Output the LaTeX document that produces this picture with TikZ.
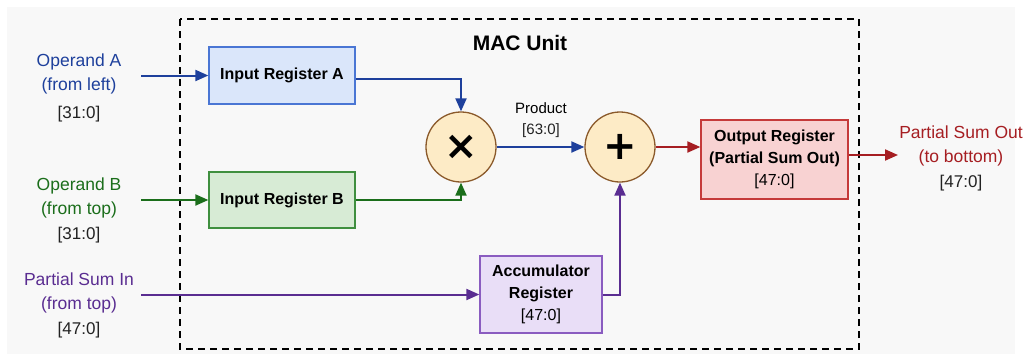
\documentclass[tikz,border=0pt]{standalone}
\usepackage{fontspec}
\setmainfont{Liberation Sans}
\newfontfamily\symfont{DejaVu Sans}
\usetikzlibrary{arrows.meta,positioning,calc}

\definecolor{bgc}{HTML}{F8F8F8}
\definecolor{blueL}{HTML}{1E409C}
\definecolor{blueF}{HTML}{DAE6FA}
\definecolor{blueD}{HTML}{4A76D4}
\definecolor{greenL}{HTML}{1B6E1B}
\definecolor{greenF}{HTML}{D7EBD5}
\definecolor{greenD}{HTML}{3F8F3F}
\definecolor{purpleL}{HTML}{5A2D91}
\definecolor{purpleF}{HTML}{E9DEF7}
\definecolor{purpleD}{HTML}{8A5CC0}
\definecolor{redL}{HTML}{A61E22}
\definecolor{redF}{HTML}{F8D2D2}
\definecolor{redD}{HTML}{C53A3A}
\definecolor{opF}{HTML}{FDEBC6}
\definecolor{opD}{HTML}{8B5A2B}
\definecolor{rangeC}{HTML}{222222}

\begin{document}
\begin{tikzpicture}[x=1pt,y=-1pt,
  reg/.style={draw, line width=1.3pt, align=center, inner sep=0pt,
    font=\fontsize{16}{22}\selectfont\bfseries},
  opcircle/.style={circle, draw=opD, fill=opF, line width=1.3pt,
    minimum size=70pt, inner sep=0pt},
  sidelabel/.style={align=center, font=\fontsize{17.5}{24}\selectfont},
  bitrange/.style={text=rangeC, font=\fontsize{17}{20}\selectfont},
  wire/.style={line width=2pt, -{Triangle[length=13pt,width=11pt]}},
]
% canvas
\useasboundingbox (0,0) rectangle (1032,354);
\fill[bgc] (7,7) rectangle (1015,354);

% MAC unit boundary
\draw[line width=1.4pt, dash pattern=on 7pt off 5pt] (180,19) rectangle (859,349);
\node[font=\fontsize{21}{24}\selectfont\bfseries] (title) at (520,43) {MAC Unit};

% registers
\node[reg, fill=blueF, draw=blueD, minimum width=146pt, minimum height=57pt]
  (ira) at (282,75.5) {Input Register A};
\node[reg, fill=greenF, draw=greenD, minimum width=146pt, minimum height=56pt]
  (irb) at (282,200) {Input Register B};
\node[reg, fill=purpleF, draw=purpleD, minimum width=122pt, minimum height=77pt]
  (acc) at (541,294.5) {Accumulator\\Register\\{\mdseries[47:0]}};
\node[reg, fill=redF, draw=redD, minimum width=147pt, minimum height=79pt]
  (outr) at (774.5,159.5) {Output Register\\(Partial Sum Out)\\{\mdseries[47:0]}};

% arithmetic operators
\node[opcircle] (mul) at (461,147) {\symfont\bfseries\fontsize{40}{40}\selectfont ×};
\node[opcircle] (add) at (620,147) {\symfont\bfseries\fontsize{40}{40}\selectfont +};

% external ports
\node[sidelabel, text=blueL] (opA) at (79,74) {Operand A\\(from left)};
\node[bitrange] (opAr) at (79,114) {[31:0]};
\node[sidelabel, text=greenL] (opB) at (79,198) {Operand B\\(from top)};
\node[bitrange] (opBr) at (79,235) {[31:0]};
\node[sidelabel, text=purpleL] (psi) at (79,293) {Partial Sum In\\(from top)};
\node[bitrange] (psir) at (79,330) {[47:0]};
\node[sidelabel, text=redL] (pso) at (961,146) {Partial Sum Out\\(to bottom)};
\node[bitrange] (psor) at (961,183) {[47:0]};

\node[align=center, font=\fontsize{15}{21}\selectfont] (prod) at (541,120.5)
  {Product\\{\color{rangeC}[63:0]}};

\coordinate (inA) at (141,75.5);
\coordinate (inB) at (141,200);
\coordinate (inP) at (141,294.5);
\coordinate (outP) at (898,155);

% connectors
\draw[wire, blueL] (inA) -- (ira.west);
\draw[wire, greenL] (inB) -- (irb.west);
\draw[wire, purpleL] (inP) -- (acc.west);
\draw[wire, blueL] ([yshift=-3pt]ira.east) -| (mul.north);
\draw[wire, greenL] (irb.east) -| (mul.south);
\draw[wire, blueL] (mul.east) -- (add.west);
\draw[wire, purpleL] (acc.east) -| (add.south);
\draw[wire, redL] (add.east) -- (add.east -| outr.west);
\draw[wire, redL] (outr.east |- outP) -- (outP);
\end{tikzpicture}
\end{document}
